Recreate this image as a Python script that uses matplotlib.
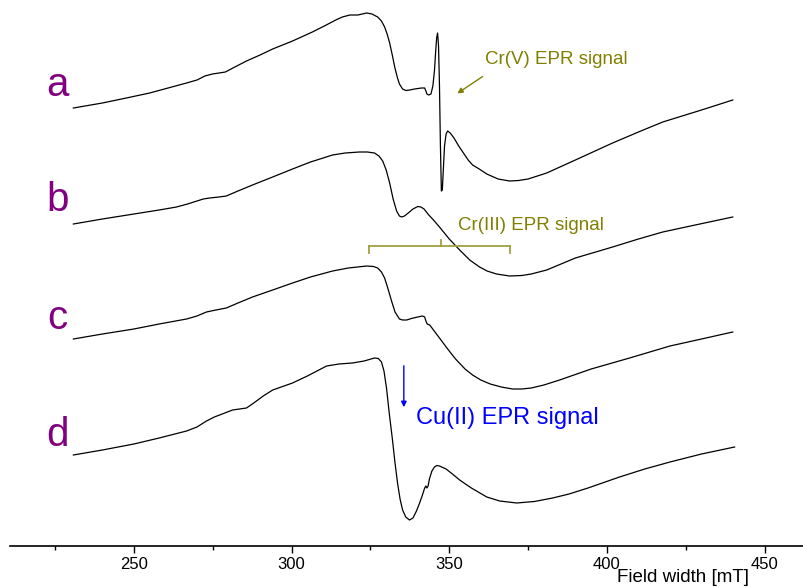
import matplotlib.pyplot as plt
from matplotlib.ticker import MultipleLocator

plt.rcParams['font.family'] = ['Liberation Sans', 'DejaVu Sans']

# spectra: field in mT, signal in arbitrary units (stacked)
field_a = [230.8, 240.0, 247.6, 255.0, 262.0, 266.7, 270.0, 272.5, 274.9, 277.0, 279.0,
           282.0, 285.7, 290.0, 294.0, 300.3, 306.6, 311.0, 314.0, 316.1, 318.5, 321.0,
           323.8, 325.5, 327.3, 328.5, 329.5, 330.3, 331.1, 332.0, 332.7, 333.5, 334.2,
           335.2, 336.2, 337.5, 339.0, 341.2, 342.2, 342.6, 342.9, 343.5, 344.2, 344.8,
           345.3, 345.7, 346.0, 346.3, 346.6, 346.9, 347.2, 347.5, 347.8, 348.1, 348.5,
           349.0, 349.5, 350.3, 351.5, 353.0, 354.5, 356.0, 357.4, 359.5, 361.9, 365.5,
           369.1, 372.0, 375.0, 380.9, 390.0, 401.8, 410.0, 417.7, 430.0, 439.9]
sig_a = [438, 443, 448, 453, 459, 463, 466, 470, 472, 473, 474,
         479, 485, 491, 497, 505, 514, 521, 526, 529, 531, 531,
         533, 532, 529, 525, 519, 512, 503, 490, 479, 469, 462,
         457, 455.5, 456, 457, 458, 458, 455, 452, 451, 452, 460,
         475, 495, 508, 513, 500, 460, 400, 355, 356, 375, 400,
         412, 415, 413, 408, 400, 393, 386, 381, 377, 372, 367,
         365, 365.5, 367, 373, 386, 403, 414, 424, 436, 446]

field_b = [230.8, 240.0, 250.0, 258.0, 263.5, 267.0, 270.0, 272.0, 274.0, 277.0, 279.3,
           283.0, 287.6, 294.0, 300.3, 306.0, 310.0, 313.0, 317.0, 321.5, 324.0, 326.3,
           327.7, 328.9, 330.0, 331.1, 332.2, 333.3, 334.2, 334.9, 335.8, 337.0, 338.5,
           340.0, 341.0, 342.0, 343.5, 345.0, 346.9, 350.0, 353.3, 356.5, 359.6, 362.0,
           365.0, 369.1, 373.0, 376.0, 380.9, 390.0, 401.8, 410.0, 417.7, 428.0, 439.9]
sig_b = [322, 327, 332, 336, 339, 342, 345, 347, 348, 349, 350,
         355, 361, 369, 377, 384, 388, 391, 393, 394, 394, 393,
         390, 385, 376, 363, 347, 335, 330, 329, 330, 333, 337,
         339.5, 339, 337, 331, 326, 319, 307, 296, 286, 279, 275,
         272, 270, 270.5, 272, 276, 288, 299, 307, 314, 321, 329]

field_c = [230.8, 240.0, 250.0, 258.0, 266.7, 270.0, 273.0, 276.0, 279.3, 283.0, 287.6,
           294.0, 300.3, 306.0, 313.0, 318.0, 323.8, 326.0, 327.3, 328.5, 329.5, 330.5,
           331.7, 332.8, 334.2, 335.2, 336.5, 338.0, 340.0, 341.5, 342.2, 342.6, 343.0,
           343.8, 345.0, 346.9, 349.5, 352.0, 355.0, 357.4, 360.0, 363.0, 366.5, 370.1,
           373.0, 376.0, 380.0, 385.0, 395.0, 407.2, 420.0, 430.0, 439.9]
sig_c = [207, 212, 217, 222, 227, 230, 234, 236, 238, 243, 249,
         256, 263, 269, 275, 278, 280, 279.5, 278, 274, 268, 258,
         245, 234, 227, 226, 226, 227.5, 229, 230, 229, 225, 222,
         221, 216, 208, 197, 187, 177, 171, 166, 162, 159, 157,
         157, 158, 161, 166, 177, 188, 200, 207, 214]

field_d = [230.8, 240.0, 250.0, 258.0, 266.7, 270.0, 273.0, 275.5, 278.0, 281.3, 285.7,
           288.0, 291.0, 294.0, 300.3, 305.0, 311.1, 315.0, 319.3, 323.0, 326.3, 327.5,
           328.5, 329.3, 330.1, 331.0, 332.0, 332.8, 333.6, 334.4, 335.2, 336.2, 337.4,
           338.5, 339.6, 340.6, 341.5, 342.2, 342.6, 342.9, 343.3, 343.7, 344.5, 345.3,
           346.1, 346.9, 349.0, 351.0, 353.3, 357.0, 361.9, 366.0, 371.4, 377.0, 382.8,
           388.0, 394.0, 404.0, 412.0, 420.0, 430.0, 440.5]
sig_d = [91, 96, 102, 108, 115, 119, 125, 129, 132, 136, 138,
         143, 150, 156, 163, 170, 180, 182, 183, 185, 188, 187.5,
         184, 175, 158, 132, 106, 83, 63, 47, 36, 29, 26,
         28, 35, 43, 51, 58, 60, 58, 60, 67, 75, 79,
         80.5, 80, 77, 72, 66, 58, 49, 45, 43, 44.5, 48,
         52, 58, 69, 77, 84, 92, 99]

labels = ['a', 'b', 'c', 'd']
label_y = [461, 346, 228, 111]

fig = plt.figure(figsize=(8.04, 5.88), dpi=100)
ax = fig.add_axes([10 / 804, 42 / 588, 794 / 804, 546 / 588])

for f, s in [(field_a, sig_a), (field_b, sig_b), (field_c, sig_c), (field_d, sig_d)]:
    ax.plot(f, s, color='black', lw=0.9)

for lab, y in zip(labels, label_y):
    ax.text(225.7, y, lab, color='#800080', fontsize=29, ha='center', va='center')

olive = '#808000'
ax.text(361.3, 486, 'Cr(V) EPR signal', color=olive, fontsize=13.5, va='center')
ax.annotate('', xy=(351.8, 451), xytext=(361.3, 471),
            arrowprops=dict(arrowstyle='-|>', color=olive, lw=1, mutation_scale=8))

ax.text(352.7, 321, 'Cr(III) EPR signal', color=olive, fontsize=13.5, va='center')
br = '#a0a040'
ax.plot([324.5, 369.3], [300, 300], color=br, lw=1.3)
ax.plot([324.5, 324.5], [300, 293], color=br, lw=1.3)
ax.plot([369.3, 369.3], [300, 293], color=br, lw=1.3)
ax.plot([347.4, 347.4], [300, 306], color=br, lw=1.3)

ax.text(339.4, 128, 'Cu(II) EPR signal', color='#0000ff', fontsize=17, va='center')
ax.annotate('', xy=(335.6, 136), xytext=(335.6, 183),
            arrowprops=dict(arrowstyle='-|>', color='#0000ff', lw=1, mutation_scale=8))

ax.set_xlim(210.7, 462.5)
ax.set_ylim(0, 546)
for side in ['top', 'left', 'right']:
    ax.spines[side].set_visible(False)
ax.spines['bottom'].set_linewidth(1.2)
ax.set_yticks([])
ax.xaxis.set_major_locator(MultipleLocator(50))
ax.xaxis.set_minor_locator(MultipleLocator(25))
ax.tick_params(axis='x', which='major', direction='out', length=5, width=1, labelsize=12, pad=3)
ax.tick_params(axis='x', which='minor', direction='out', length=3, width=1)

fig.text(617 / 804, 1 - 578 / 588, 'Field width [mT]', fontsize=13.5, va='center')

fig.savefig('out.png', dpi=100)
